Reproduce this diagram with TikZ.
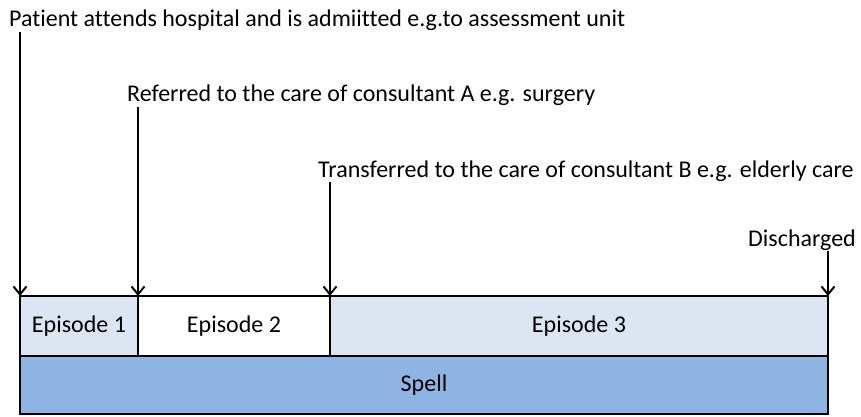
\documentclass[tikz,border=0pt]{standalone}
\usepackage{fontspec}
\setmainfont[Ligatures=NoCommon]{Carlito}
\usetikzlibrary{arrows.meta, positioning}
\definecolor{paleblue}{HTML}{DCE6F2}
\definecolor{spellblue}{HTML}{8EB4E3}

\begin{document}
\begin{tikzpicture}[x=1pt, y=-1pt, font=\fontsize{24}{29}\selectfont,
        episode/.style={draw, line width=2pt, minimum height=60pt, inner sep=0pt, outer sep=0pt},
        event/.style={anchor=base west, inner sep=1pt},
        arr/.style={line width=2pt, -{Straight Barb[length=8pt, width=13pt, line width=2pt]}}]
            \useasboundingbox (0,0) rectangle (861,417);

            \node[episode, fill=paleblue, minimum width=118pt, anchor=north west] (ep1) at (20,296) {Episode 1};
            \node[episode, fill=white, minimum width=192pt, right=0pt of ep1] (ep2) {Episode 2};
            \node[episode, fill=paleblue, minimum width=498pt, right=0pt of ep2] (ep3) {Episode 3};
            \node[episode, fill=spellblue, minimum width=808pt, minimum height=58pt, anchor=north west] (spell) at (ep1.south west) {Spell};

            \node[event] (admit) at (8,27) {Patient attends hospital and is admiitted e.g.to assessment unit};
            \node[event] (refer) at (126,102) {Referred to the care of consultant A e.g. surgery};
            \node[event] (transfer) at (317,177) {Transferred to the care of consultant B e.g. elderly care};
            \node[event, anchor=base east] (discharge) at (857,246) {Discharged};

            \draw[arr] (ep1.north west |- admit.south) -- (ep1.north west);
            \draw[arr] (ep2.north west |- refer.south) -- (ep2.north west);
            \draw[arr] (ep3.north west |- transfer.south) -- (ep3.north west);
            \draw[arr] (ep3.north east |- discharge.south) -- (ep3.north east);
\end{tikzpicture}
\end{document}
